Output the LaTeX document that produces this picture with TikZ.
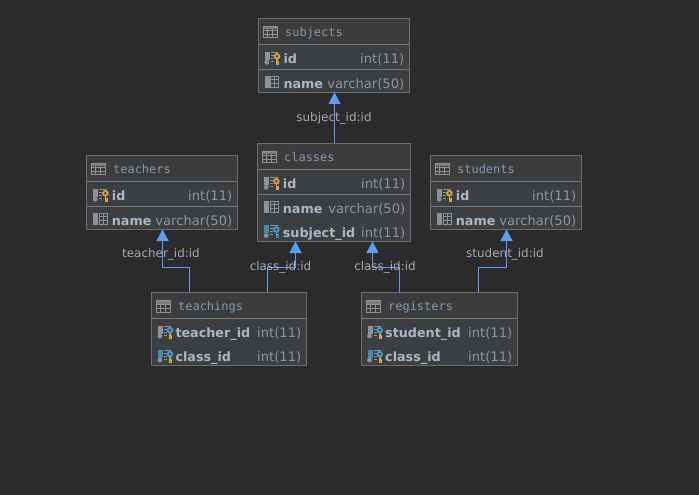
\documentclass[tikz,border=0pt]{standalone}
\usepackage{fontspec}
\setmainfont{DejaVu Sans}
\newfontfamily\hdrfont{DejaVu Sans Mono}
\usetikzlibrary{arrows.meta}
\definecolor{bgc}{HTML}{2B2B2B}
\definecolor{hdrc}{HTML}{3C3C3C}
\definecolor{rowc}{HTML}{3B3F42}
\definecolor{edgec}{HTML}{6B6D6E}
\definecolor{sepc}{HTML}{74787A}
\definecolor{linkc}{HTML}{589DF6}
\definecolor{namec}{HTML}{A9B7C6}
\definecolor{typec}{HTML}{8F9498}
\definecolor{titlec}{HTML}{8399AD}
\definecolor{labelc}{HTML}{A3ABB1}
\definecolor{iconc}{HTML}{8C9296}
\definecolor{goldc}{HTML}{DFA23C}
\definecolor{fkc}{HTML}{3F9FD6}
\definecolor{tealc}{HTML}{3E8DB0}
\tikzset{
  tbl/.style={anchor=north west,inner sep=0pt,outer sep=0pt,minimum width=#1},
  titletext/.style={anchor=base west,inner sep=0pt,text=titlec,font=\hdrfont\fontsize{12}{14}\selectfont},
  fieldname/.style={anchor=base west,inner sep=0pt,text=namec,font=\bfseries\fontsize{12.8}{15}\selectfont},
  fieldtype/.style={anchor=base east,inner sep=0pt,text=typec,font=\fontsize{13.2}{15}\selectfont},
  linklabel/.style={inner sep=0pt,text=labelc,font=\fontsize{12}{14}\selectfont},
  link/.style={draw=linkc,line width=1.1bp,-{Triangle[width=12bp,length=11.5bp,color=linkc]}},
}
% table icon: table origin
\newcommand{\icontable}[1]{%
  \begin{scope}[shift={(#1)}]
    \fill[iconc,opacity=.75] (4.5,8) rectangle (19,11);
    \draw[iconc,line width=1bp] (4.5,8) rectangle (19,19.5);
    \draw[iconc,line width=1bp] (4.5,12) -- (19,12) (4.5,15.7) -- (19,15.7) (9.3,11) -- (9.3,19.5) (14.1,11) -- (14.1,19.5);
  \end{scope}}
% plain column icon: #1 row origin
\newcommand{\iconcol}[2]{%
  \begin{scope}[shift={(#1)}]
    \fill[#2] (6.5,0) rectangle (11.5,12);
    \draw[iconc,line width=1bp] (12.5,.5) rectangle (20.5,11.5);
    \draw[iconc,line width=1bp] (12.5,4) -- (20.5,4) (12.5,8) -- (20.5,8) (16.5,.5) -- (16.5,11.5);
  \end{scope}}
% key column icon: #1 row origin, #2 bar colour, #3 ring colour, #4 stem colour
\newcommand{\iconkey}[4]{%
  \begin{scope}[shift={(#1)}]
    \fill[#2] (6.5,0) rectangle (11.5,8);
    \fill[iconc] (8.5,10.6) circle (2.4);
    \draw[iconc,line width=.9bp] (12.5,.5) -- (20,.5) (12.5,3.5) -- (15.5,3.5) (12.5,6.5) -- (15.5,6.5) (12.5,9.5) -- (15.5,9.5);
    \draw[#4,line width=1.7bp] (18.7,7) -- (18.7,13) (18.7,10.2) -- (21,10.2) (18.7,12.4) -- (21,12.4);
    \draw[#3,line width=1.8bp] (18.7,4.6) circle (2.3);
  \end{scope}}
% name, left, top, right, bottom, separator y list, title
\newcommand{\dbtable}[7]{%
  \pgfmathsetmacro{\tw}{#4-#2}\pgfmathsetmacro{\th}{#5-#3}
  \node[tbl=\tw bp,minimum height=\th bp] (#1) at (#2,#3) {};
  \fill[rowc] (#1.north west) rectangle (#1.south east);
  \fill[hdrc] (#1.north west) rectangle ([yshift=-26bp]#1.north east);
  \foreach \sy in {#6} {\draw[sepc,line width=1bp] ([yshift=-\sy bp]#1.north west) -- ([yshift=-\sy bp]#1.north east);}
  \draw[edgec,line width=1bp] (#1.north west) rectangle (#1.south east);
  \icontable{#2,#3}
  \node[titletext] (#1-title) at (#2+26.5,#3+18) {#7};}
% table, key, baseline y, name, type, left, text offset
\newcommand{\dbrow}[7]{%
  \node[fieldname] (#1-#2) at (#6+#7,#3) {#4};
  \node[fieldtype] (#1-#2-type) at ([xshift=-5bp]#1.east |- 0,#3) {#5};}
\begin{document}
\begin{tikzpicture}[x=1bp,y=-1bp]
\path[use as bounding box,fill=bgc] (0,0) rectangle (699,495);

% subjects
\dbtable{subjects}{258.5}{18.5}{409.5}{92.5}{26,51}{subjects}
\iconkey{258.3,51.7}{iconc}{goldc}{goldc}
\iconcol{258.3,76}{iconc}
\dbrow{subjects}{id}{63.5}{id}{int(11)}{258.3}{25}
\dbrow{subjects}{name}{88.5}{name}{varchar(50)}{258.3}{25}

% classes
\dbtable{classes}{257.5}{143.5}{410.5}{241.5}{26,51}{classes}
\iconkey{257.7,176.7}{iconc}{goldc}{goldc}
\iconcol{257.7,201}{iconc}
\iconkey{257.7,225}{tealc}{fkc}{fkc}
\dbrow{classes}{id}{188.5}{id}{int(11)}{257.7}{25}
\dbrow{classes}{name}{213.5}{name}{varchar(50)}{257.7}{25}
\dbrow{classes}{subject}{237.5}{subject\_id}{int(11)}{257.7}{25}

% teachers
\dbtable{teachers}{86.5}{155.5}{237.5}{229.5}{26,51}{teachers}
\iconkey{86.7,188.7}{iconc}{goldc}{goldc}
\iconcol{86.7,213}{iconc}
\dbrow{teachers}{id}{200.5}{id}{int(11)}{86.7}{25}
\dbrow{teachers}{name}{225.5}{name}{varchar(50)}{86.7}{25}

% students
\dbtable{students}{430.5}{155.5}{581.5}{229.5}{26,51}{students}
\iconkey{430.7,188.7}{iconc}{goldc}{goldc}
\iconcol{430.7,213}{iconc}
\dbrow{students}{id}{200.5}{id}{int(11)}{430.7}{25}
\dbrow{students}{name}{225.5}{name}{varchar(50)}{430.7}{25}

% teachings
\dbtable{teachings}{151.5}{292.5}{306.5}{365.5}{26}{teachings}
\iconkey{151.3,325.5}{iconc}{fkc}{goldc}
\iconkey{151.3,349.5}{tealc}{fkc}{goldc}
\dbrow{teachings}{teacher}{337}{teacher\_id}{int(11)}{151.3}{24}
\dbrow{teachings}{class}{361}{class\_id}{int(11)}{151.3}{24}

% registers
\dbtable{registers}{361.5}{292.5}{517.5}{365.5}{26}{registers}
\iconkey{361,325.5}{iconc}{fkc}{goldc}
\iconkey{361,349.5}{tealc}{fkc}{goldc}
\dbrow{registers}{student}{337}{student\_id}{int(11)}{361}{24}
\dbrow{registers}{class}{361}{class\_id}{int(11)}{361}{24}

% connectors
\draw[link] (classes.north -| 334.5,0) -- (subjects.south -| 334.5,0);
\draw[link] (teachings.north -| 189.5,0) -- (189.5,267.5) -- (162.5,267.5) -- (teachers.south -| 162.5,0);
\draw[link] (teachings.north -| 267.5,0) -- (267.5,267.5) -- (295.5,267.5) -- (classes.south -| 295.5,0);
\draw[link] (registers.north -| 399.5,0) -- (399.5,267.5) -- (372.5,267.5) -- (classes.south -| 372.5,0);
\draw[link] (registers.north -| 478.5,0) -- (478.5,267.5) -- (506.5,267.5) -- (students.south -| 506.5,0);

% connector labels
\node[linklabel] (lbl-subject) at (334,118.5) {subject\_id:id};
\node[linklabel] (lbl-teacher) at (161,254) {teacher\_id:id};
\node[linklabel] (lbl-class-a) at (280.5,267.5) {class\_id:id};
\node[linklabel] (lbl-class-b) at (385,267.5) {class\_id:id};
\node[linklabel] (lbl-student) at (505,254) {student\_id:id};
\end{tikzpicture}
\end{document}
